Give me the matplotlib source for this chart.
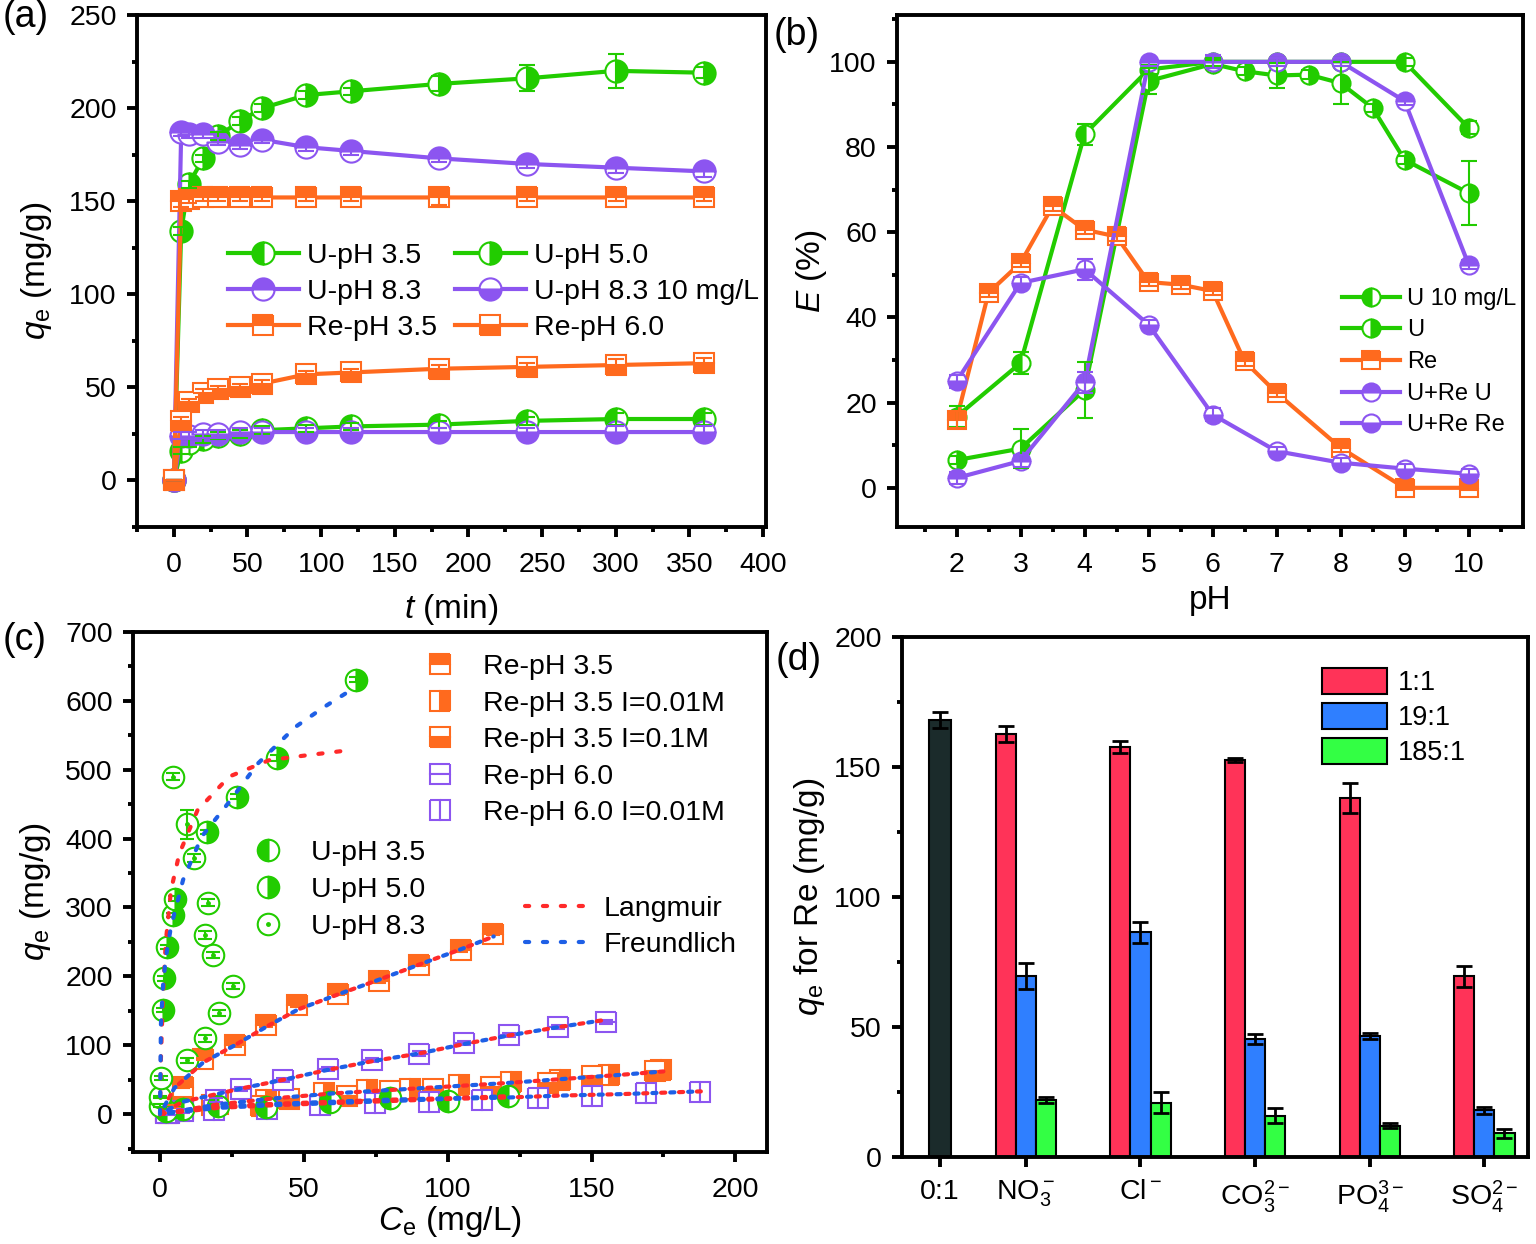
import numpy as np
import matplotlib
matplotlib.use('Agg')
import matplotlib.pyplot as plt
from matplotlib.lines import Line2D
from matplotlib.ticker import MultipleLocator, FixedLocator

plt.rcParams['font.family'] = ['Liberation Sans', 'DejaVu Sans']
plt.rcParams['mathtext.fontset'] = 'custom'
plt.rcParams['mathtext.rm'] = 'Liberation Sans'
plt.rcParams['mathtext.it'] = 'Liberation Sans:italic'
plt.rcParams['mathtext.bf'] = 'Liberation Sans:bold'
plt.rcParams['font.size'] = 20.5
plt.rcParams['axes.labelsize'] = 24

GREEN = '#22cc00'
PURPLE = '#8c55f0'
ORANGE = '#ff6a1e'
RED_FIT = '#ff2a2a'
BLUE_FIT = '#1e5fe6'
BAR_RED = '#ff3358'
BAR_BLUE = '#2f7fff'
BAR_GREEN = '#33ff44'
BAR_DARK = '#1b2b2b'

# ---- (a) kinetics ----
t_min = [0, 5, 10, 20, 30, 45, 60, 90, 120, 180, 240, 300, 360]
qa_u35 = [0, 16, 20, 22, 24, 25, 27, 28, 29, 30, 32, 33, 33]
qa_u50 = [0, 134, 159, 173, 185, 193, 200, 207, 209, 213, 216, 220, 219]
qa_u50_err = [0, 2, 2, 2, 2, 2, 2, 2, 2, 4, 7, 9, 3]
qa_u83 = [0, 187, 186, 186, 182, 180, 183, 179, 177, 173, 170, 168, 166]
qa_u83_10 = [0, 24, 24, 25, 25, 26, 26, 26, 26, 26, 26, 26, 26]
qa_re35 = [0, 150, 151, 152, 152, 152, 152, 152, 152, 152, 152, 152, 152]
qa_re35_err = [0, 3, 2, 2, 2, 2, 2, 2, 2, 4, 2, 2, 2]
qa_re60 = [0, 32, 42, 47, 49, 50, 52, 57, 58, 60, 61, 62, 63]
qa_small_err = [0, 2, 2, 2, 2, 2, 2, 2, 2, 2, 2, 3, 3]

# ---- (b) pH effect ----
ph_u10 = [2, 3, 4, 5, 6, 7, 8, 9, 10]
e_u10 = [16.7, 29.3, 83, 98.2, 100, 100, 100, 100, 84.5]
e_u10_err = [2.5, 2.5, 2.5, 1, 1, 1, 1, 1, 1.5]
ph_u = [2, 3, 4, 5, 6, 6.5, 7, 7.5, 8, 8.5, 9, 10]
e_u = [6.5, 9.2, 23, 95.5, 99.5, 97.8, 96.8, 97, 95, 89.2, 77, 69.2]
e_u_err = [1, 4.5, 6.6, 3, 1, 1, 3, 1, 5, 1, 1, 7.5]
ph_re = [2, 2.5, 3, 3.5, 4, 4.5, 5, 5.5, 6, 6.5, 7, 8, 9, 10]
e_re = [16, 45.8, 52.8, 66.1, 60.6, 59, 48.3, 47.7, 46.2, 29.7, 22.3, 9.4, 0, 0]
e_re_err = [2, 1, 1, 1, 1, 1, 1, 1, 1, 1, 1, 1, 0.5, 0.5]
ph_ure = [2, 3, 4, 5, 6, 7, 8, 9, 10]
e_ure_u = [2.3, 6.3, 24.8, 100, 100, 100, 100, 90.8, 52.4]
e_ure_re = [25, 48.1, 51.3, 38.3, 17.2, 8.6, 5.9, 4.5, 3.3]
e_ure_err = [1.5, 1.5, 2.5, 1, 1.5, 1, 1, 1, 1]

# ---- (c) isotherms ----
ce_re35 = [2, 5, 8, 15, 26, 37, 47.5, 62, 76, 90, 104.7, 115.7]
qc_re35 = [3, 11, 40, 80, 100, 129, 158, 175, 193, 217, 238, 262]
ce_re35_i1 = [3, 7, 18, 37, 57, 72, 87, 104, 122, 139, 156, 174]
qc_re35_i1 = [2, 6, 13, 20, 30, 35, 37, 42, 47, 50, 57, 64]
ce_re35_i2 = [2, 8, 20, 35, 45, 65, 80, 95, 115, 135, 150, 172]
qc_re35_i2 = [3, 8, 15, 12, 22, 27, 33, 36, 40, 45, 55, 62]
ce_re60 = [3, 8, 19.5, 28, 42.6, 58.4, 73.7, 90, 105.7, 121.4, 138.3, 155]
qc_re60 = [2, 5, 20, 37, 50, 65, 78, 88, 103.5, 115, 127, 134]
ce_re60_i1 = [2, 6.7, 18.8, 37.3, 55.6, 74.8, 93.6, 112, 131.4, 150, 169, 187.7]
qc_re60_i1 = [1, 5, 6, 8, 13, 15.5, 18, 20, 23, 25.6, 30, 32.4]
ce_u35 = [2, 8, 20, 37, 59, 80, 100, 121]
qc_u35 = [5, 8, 12, 11, 17, 23, 19, 27]
ce_u50 = [0, 0.9, 1.4, 2.3, 4.6, 5.2, 16.3, 26.9, 40.5, 68]
qc_u50 = [12, 151, 197, 243, 289, 313, 410, 461, 517, 631]
qc_u50_err = [2, 3, 3, 3, 3, 3, 3, 4, 4, 3]
ce_u83 = [0, 0.2, 4.5, 9.3, 9.3, 11.7, 15.7, 15.7, 16.8, 18.5, 20.6, 25.5]
qc_u83 = [25, 52, 490, 421, 78, 372, 110, 260, 307, 231, 147, 186]
qc_u83_err = [2, 3, 5, 21, 4, 6, 5, 6, 5, 5, 4, 5]

# fitted curves
lang_u50_ce = [0, 0.3, 1, 2, 3.8, 6.7, 13, 24, 38, 51, 63]
lang_u50_q = [0, 80, 170, 250, 325, 378, 441, 490, 514, 521, 527]
freu_u50_ce = [0, 0.3, 1, 2, 3.8, 8, 14.5, 24, 34, 47, 57, 68]
freu_u50_q = [0, 130, 185, 227, 272, 340, 403, 453, 509, 562, 591, 620]
fit_re35_ce = [0, 5, 15, 26, 37, 48, 62, 76, 90, 105, 116]
fit_re35_q = [0, 38, 75, 100, 127, 152, 174, 195, 217, 240, 258]
fit_re60_ce = [0, 8, 28, 43, 58, 74, 90, 106, 121, 138, 155]
fit_re60_q = [0, 18, 37, 50, 64, 77, 88, 102, 114, 126, 137]
fit_re60i_ce = [0, 20, 40, 60, 80, 100, 120, 140, 160, 188]
fit_re60i_q = [0, 9, 13, 16, 19, 22, 24, 27, 29, 33]
fit_re35i_ce = [0, 20, 40, 60, 80, 100, 120, 140, 160, 175]
fit_re35i_q = [0, 14, 23, 30, 35, 40, 45, 51, 57, 62]
fit_u35_ce = [0, 20, 40, 60, 80, 100, 121]
fit_u35_q = [0, 11, 15, 18, 21, 23, 26]

# ---- (d) competing anions ----
anions = ['0:1', r'NO$_3^-$', r'Cl$^-$', r'CO$_3^{2-}$', r'PO$_4^{3-}$', r'SO$_4^{2-}$']
q_only_re = 168
q_only_re_err = 3
q_11 = [162.7, 157.7, 152.8, 138, 69.5]
q_11_err = [3, 2.4, 0.8, 5.8, 4]
q_191 = [69.8, 86.4, 45.3, 46.4, 18]
q_191_err = [5, 4, 2, 1.2, 1.4]
q_1851 = [21.8, 20.9, 15.9, 12.1, 9.1]
q_1851_err = [1.2, 4, 3, 1, 1.7]

W, H = 1536, 1244
fig = plt.figure(figsize=(W / 100, H / 100), dpi=100)


def add_ax(l, t, r, b):
    return fig.add_axes([l / W, 1 - b / H, (r - l) / W, (b - t) / H])


def style(ax):
    for s in ax.spines.values():
        s.set_linewidth(2.8)
    ax.tick_params(which='both', direction='out', width=2.8, top=False, right=False)
    ax.tick_params(which='major', length=7.5)
    ax.tick_params(which='minor', length=3.8)
    ax.tick_params(axis='x', pad=10.5)
    ax.tick_params(axis='y', pad=7)


def series(ax, x, y, err, color, fill, marker, ms, lw, label):
    ln, = ax.plot(x, y, color=color, lw=lw, marker=marker, ms=ms, fillstyle=fill,
                  mfc=color, mfcalt='white', mec=color, mew=1.5, label=label, zorder=3)
    ax.errorbar(x, y, yerr=err, fmt='none', ecolor=color, elinewidth=1.5,
                capsize=6, capthick=1.5, zorder=4)
    return ln


# ================= (a) =================
ax = add_ax(137, 15, 766, 527)
style(ax)
h_u35 = series(ax, t_min, qa_u35, qa_small_err, GREEN, 'left', 'o', 16, 3, 'U-pH 3.5')
h_u50 = series(ax, t_min, qa_u50, qa_u50_err, GREEN, 'right', 'o', 16, 3, 'U-pH 5.0')
h_u83 = series(ax, t_min, qa_u83, qa_small_err, PURPLE, 'top', 'o', 16, 3, 'U-pH 8.3')
h_u8310 = series(ax, t_min, qa_u83_10, qa_small_err, PURPLE, 'bottom', 'o', 16, 3, 'U-pH 8.3 10 mg/L')
h_re35 = series(ax, t_min, qa_re35, qa_re35_err, ORANGE, 'top', 's', 15, 3, 'Re-pH 3.5')
h_re60 = series(ax, t_min, qa_re60, qa_small_err, ORANGE, 'bottom', 's', 15, 3, 'Re-pH 6.0')
ax.set_xlim(-25, 402)
ax.set_ylim(-25, 250)
ax.xaxis.set_major_locator(MultipleLocator(50))
ax.xaxis.set_minor_locator(MultipleLocator(25))
ax.yaxis.set_major_locator(MultipleLocator(50))
ax.yaxis.set_minor_locator(MultipleLocator(25))
ax.set_xlabel(r'$t$ (min)', labelpad=10)
ax.set_ylabel(r'$q_\mathrm{e}$ (mg/g)', labelpad=11)
ax.legend([h_u35, h_u83, h_re35, h_u50, h_u8310, h_re60],
          ['U-pH 3.5', 'U-pH 8.3', 'Re-pH 3.5', 'U-pH 5.0', 'U-pH 8.3 10 mg/L', 'Re-pH 6.0'],
          ncol=2, frameon=False, loc='center left', bbox_to_anchor=(0.144, 0.459),
          borderpad=0, borderaxespad=0, handlelength=2.5, handletextpad=0.3,
          columnspacing=0.6, labelspacing=0.36, fontsize=20.5)

# ================= (b) =================
ax = add_ax(897, 15, 1523, 527)
style(ax)
b1 = series(ax, ph_u10, e_u10, e_u10_err, GREEN, 'left', 'o', 13, 3, 'U 10 mg/L')
b2 = series(ax, ph_u, e_u, e_u_err, GREEN, 'right', 'o', 13, 3, 'U')
b3 = series(ax, ph_re, e_re, e_re_err, ORANGE, 'top', 's', 13, 3, 'Re')
b4 = series(ax, ph_ure, e_ure_u, e_ure_err, PURPLE, 'top', 'o', 13, 3, 'U+Re U')
b5 = series(ax, ph_ure, e_ure_re, e_ure_err, PURPLE, 'bottom', 'o', 13, 3, 'U+Re Re')
ax.set_xlim(1.07, 10.85)
ax.set_ylim(-9.2, 111)
ax.set_xticks([2, 3, 4, 5, 6, 7, 8, 9, 10])
ax.xaxis.set_minor_locator(FixedLocator(np.arange(1.5, 11, 1.0)))
ax.yaxis.set_major_locator(MultipleLocator(20))
ax.yaxis.set_minor_locator(MultipleLocator(10))
ax.set_xlabel('pH', labelpad=5)
ax.set_ylabel(r'$E$ (%)', labelpad=0)
ax.legend([b1, b2, b3, b4, b5], ['U 10 mg/L', 'U', 'Re', 'U+Re U', 'U+Re Re'],
          frameon=False, loc='center left', bbox_to_anchor=(0.711, 0.322),
          borderpad=0, borderaxespad=0, handlelength=2.45, handletextpad=0.3,
          labelspacing=0.41, fontsize=17)

# ================= (c) =================
ax = add_ax(133, 632, 767, 1152)
style(ax)
DASH = (1.0, 3.3)
for ce, qq in [(fit_re35_ce, fit_re35_q), (fit_re60_ce, fit_re60_q),
               (fit_re60i_ce, fit_re60i_q), (fit_re35i_ce, fit_re35i_q),
               (fit_u35_ce, fit_u35_q)]:
    ax.plot(ce, qq, color=RED_FIT, lw=3, ls=(0, DASH), dash_capstyle='round', zorder=5)
    ax.plot(ce, qq, color=BLUE_FIT, lw=3, ls=(2.1, DASH), dash_capstyle='round', zorder=5)
ax.plot(lang_u50_ce, lang_u50_q, color=RED_FIT, lw=3, ls=(0, DASH), dash_capstyle='round', zorder=5)
ax.plot(freu_u50_ce, freu_u50_q, color=BLUE_FIT, lw=3, ls=(0, DASH), dash_capstyle='round', zorder=5)


def scat(ax, x, y, color, fill, marker, ms, face=None, err=None):
    ln, = ax.plot(x, y, ls='none', marker=marker, ms=ms, fillstyle=fill,
                  mfc=face if face else color, mfcalt='white', mec=color, mew=1.5, zorder=3)
    if err is not None:
        ax.errorbar(x, y, yerr=err, fmt='none', ecolor=color, elinewidth=1.5,
                    capsize=5, capthick=1.5, zorder=4)
    return ln


scat(ax, ce_re35, qc_re35, ORANGE, 'top', 's', 14, err=[2] * 12)
scat(ax, ce_re35_i1, qc_re35_i1, ORANGE, 'right', 's', 14)
scat(ax, ce_re35_i2, qc_re35_i2, ORANGE, 'bottom', 's', 14)
scat(ax, ce_re60, qc_re60, PURPLE, 'top', 's', 14, face='white', err=[3] * 12)
scat(ax, ce_re60_i1, qc_re60_i1, PURPLE, 'left', 's', 14, face='white')
scat(ax, ce_u35, qc_u35, GREEN, 'left', 'o', 15.5)
scat(ax, ce_u50, qc_u50, GREEN, 'right', 'o', 15.5, err=qc_u50_err)
scat(ax, ce_u83, qc_u83, GREEN, 'full', 'o', 15.5, face='white', err=qc_u83_err)
ax.plot(ce_u83, qc_u83, ls='none', marker='o', ms=2.5, color=GREEN, zorder=3.5)
ax.set_xlim(-9.4, 211)
ax.set_ylim(-55, 700)
ax.xaxis.set_major_locator(MultipleLocator(50))
ax.xaxis.set_minor_locator(MultipleLocator(25))
ax.yaxis.set_major_locator(MultipleLocator(100))
ax.yaxis.set_minor_locator(MultipleLocator(50))
ax.set_xlabel(r'$C_\mathrm{e}$ (mg/L)', labelpad=1)
ax.set_ylabel(r'$q_\mathrm{e}$ (mg/g)', labelpad=9)


def mk(color, fill, marker, ms, face=None):
    return Line2D([], [], ls='none', marker=marker, ms=ms, fillstyle=fill,
                  mfc=face if face else color, mfcalt='white', mec=color, mew=1.5)


leg1 = ax.legend([mk(ORANGE, 'top', 's', 14), mk(ORANGE, 'right', 's', 14),
                  mk(ORANGE, 'bottom', 's', 14), mk(PURPLE, 'top', 's', 14, 'white'),
                  mk(PURPLE, 'left', 's', 14, 'white')],
                 ['Re-pH 3.5', 'Re-pH 3.5 I=0.01M', 'Re-pH 3.5 I=0.1M', 'Re-pH 6.0',
                  'Re-pH 6.0 I=0.01M'],
                 frameon=False, loc='center left', bbox_to_anchor=(0.458, 0.792),
                 borderpad=0, borderaxespad=0, handlelength=1.2, handletextpad=0.9,
                 labelspacing=0.37, fontsize=20.5)
ax.add_artist(leg1)
dot = Line2D([], [], ls='none', marker='o', ms=2.5, color=GREEN)
leg2 = ax.legend([mk(GREEN, 'left', 'o', 15.5), mk(GREEN, 'right', 'o', 15.5),
                  (mk(GREEN, 'full', 'o', 15.5, 'white'), dot)],
                 ['U-pH 3.5', 'U-pH 5.0', 'U-pH 8.3'],
                 frameon=False, loc='center left', bbox_to_anchor=(0.1865, 0.504),
                 borderpad=0, borderaxespad=0, handlelength=1.2, handletextpad=0.9,
                 labelspacing=0.39, fontsize=20.5)
ax.add_artist(leg2)
ax.legend([Line2D([], [], color=RED_FIT, lw=3, ls=(0, DASH), dash_capstyle='round'),
           Line2D([], [], color=BLUE_FIT, lw=3, ls=(0, DASH), dash_capstyle='round')],
          ['Langmuir', 'Freundlich'],
          frameon=False, loc='center left', bbox_to_anchor=(0.619, 0.433),
          borderpad=0, borderaxespad=0, handlelength=2.4, handletextpad=0.35,
          labelspacing=0.36, fontsize=20.5)

# ================= (d) =================
ax = add_ax(902, 637, 1528, 1157)
style(ax)
pos = np.array([1, 2, 3, 4, 5])
bw = 0.175
ek = dict(elinewidth=2, capthick=2, ecolor='black')
ax.bar(0.25, q_only_re, 0.19, color=BAR_DARK, edgecolor='black', lw=1.5,
       yerr=q_only_re_err, capsize=6, error_kw=ek)
ax.bar(pos - bw, q_11, bw, color=BAR_RED, edgecolor='black', lw=1.5, yerr=q_11_err,
       capsize=6, error_kw=ek, label='1:1')
ax.bar(pos, q_191, bw, color=BAR_BLUE, edgecolor='black', lw=1.5, yerr=q_191_err,
       capsize=6, error_kw=ek, label='19:1')
ax.bar(pos + bw, q_1851, bw, color=BAR_GREEN, edgecolor='black', lw=1.5, yerr=q_1851_err,
       capsize=6, error_kw=ek, label='185:1')
ax.set_xlim(-0.08, 5.38)
ax.set_ylim(0, 200)
ax.set_xticks([0.25, 1, 2, 3, 4, 5])
ax.set_xticklabels(anions)
ax.tick_params(axis='x', pad=8)
ax.yaxis.set_major_locator(MultipleLocator(50))
ax.yaxis.set_minor_locator(MultipleLocator(25))
ax.set_ylabel(r'$q_\mathrm{e}$ for Re (mg/g)', labelpad=5)
ax.legend(frameon=False, loc='center left', bbox_to_anchor=(0.671, 0.846),
          borderpad=0, borderaxespad=0, handlelength=2.4, handleheight=1.1,
          handletextpad=0.4, labelspacing=0.26, fontsize=19.5)

for txt, x, y in [('(a)', 3, 17), ('(b)', 774, 35), ('(c)', 3, 640), ('(d)', 776, 660)]:
    fig.text(x / W, 1 - y / H, txt, ha='left', va='center', fontsize=27)

fig.savefig('out.png', dpi=100)
